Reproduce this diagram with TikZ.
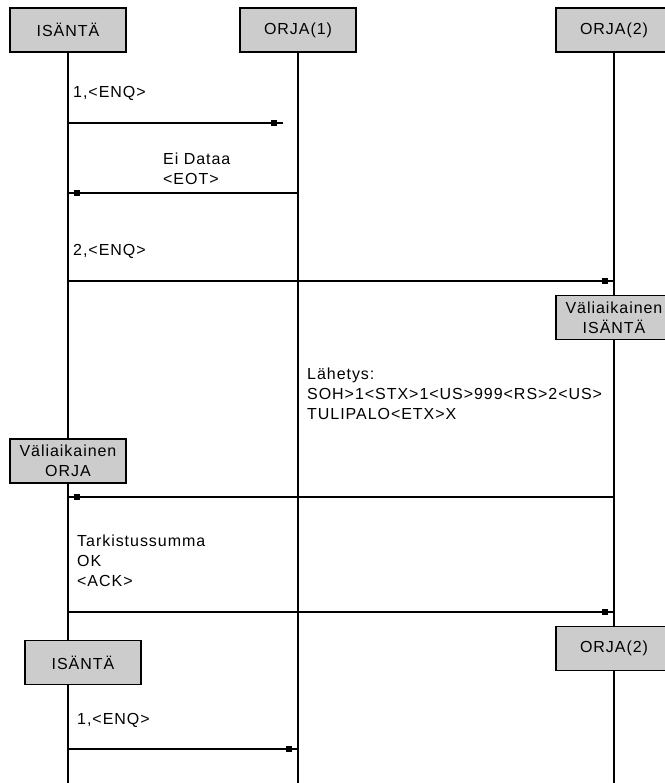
\documentclass[tikz,border=0pt]{standalone}
\usepackage{fontspec}
\setmainfont{Liberation Sans}[LetterSpace=6]
\usetikzlibrary{decorations.markings}
\definecolor{boxgray}{RGB}{204,204,204}

\begin{document}
\begin{tikzpicture}[
    x=1pt, y=-1pt,
    every node/.style={font=\fontsize{16}{20}\selectfont},
    box/.style={draw, line width=1.4pt, fill=boxgray, align=center, inner sep=0pt, minimum width=116pt, minimum height=44pt},
    life/.style={line width=1.2pt},
    msg/.style={line width=1.2pt, postaction={decorate}, decoration={markings, mark=at position -9pt with {\fill (-2.8pt,-2.8pt) rectangle (2.8pt,2.8pt);}}},
    note/.style={anchor=base west, align=left, inner sep=0pt}
  ]
    \useasboundingbox (0,0) rectangle (664,783);

    \node[box] (isanta) at (68,30) {ISÄNTÄ};
    \node[box] (orja1) at (298,30) {ORJA(1)};
    \node[box] (orja2) at (614,30) {ORJA(2)};
    \node[box] (valisanta) at (614,317.5) {Väliaikainen\\ISÄNTÄ};
    \node[box] (valorja) at (68,461) {Väliaikainen\\ORJA};
    \node[box] (isanta2) at (83,662.5) {ISÄNTÄ};
    \node[box] (orja2b) at (614,648.5) {ORJA(2)};

    \coordinate (isEnd) at (68,783);
    \coordinate (o1End) at (298,783);
    \coordinate (o2End) at (614,783);

    \draw[life] (isanta) -- (valorja);
    \draw[life] (valorja.south) -- (valorja.south |- isanta2.north);
    \draw[life] (isEnd |- isanta2.south) -- (isEnd);
    \draw[life] (orja1) -- (o1End);
    \draw[life] (orja2) -- (valisanta);
    \draw[life] (valisanta) -- (orja2b);
    \draw[life] (orja2b) -- (o2End);

    \coordinate (m1a) at (68,123);
    \coordinate (m1b) at (283,123);
    \coordinate (m2a) at (298,193);
    \coordinate (m2b) at (68,193);
    \coordinate (m3a) at (68,281);
    \coordinate (m3b) at (614,281);
    \coordinate (m4a) at (614,497);
    \coordinate (m4b) at (68,497);
    \coordinate (m5a) at (68,612);
    \coordinate (m5b) at (614,612);
    \coordinate (m6a) at (68,749);
    \coordinate (m6b) at (298,749);

    \draw[msg] (m1a) -- (m1b);
    \draw[msg] (m2a) -- (m2b);
    \draw[msg] (m3a) -- (m3b);
    \draw[msg] (m4a) -- (m4b);
    \draw[msg] (m5a) -- (m5b);
    \draw[msg] (m6a) -- (m6b);

    \node[note] (enq1) at (73,98) {1,<ENQ>};
    \node[note] (eot) at (163,185) {Ei Dataa\\<EOT>};
    \node[note] (enq2) at (73,256) {2,<ENQ>};
    \node[note] (lahetys) at (307,419) {Lähetys:\\SOH>1<STX>1<US>999<RS>2<US>\\TULIPALO<ETX>X};
    \node[note] (ack) at (77,586) {Tarkistussumma\\OK\\<ACK>};
    \node[note] (enq3) at (77,724) {1,<ENQ>};
\end{tikzpicture}
\end{document}
